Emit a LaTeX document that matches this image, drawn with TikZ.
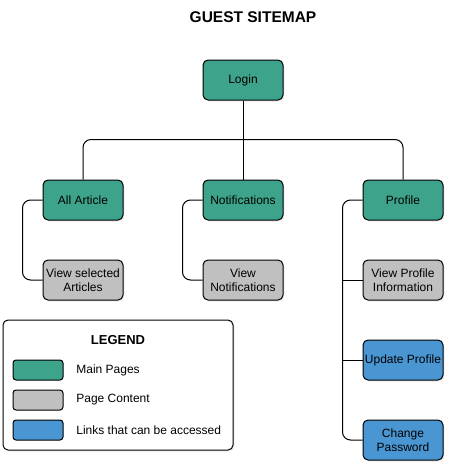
\documentclass[tikz,border=0pt]{standalone}
\usepackage{fontspec}
\setmainfont{Liberation Sans}
\usetikzlibrary{shadows,positioning}
\definecolor{mainclr}{HTML}{3DA38A}
\definecolor{contentclr}{HTML}{BFC0BF}
\definecolor{linkclr}{HTML}{4A96D2}
\begin{document}
\begin{tikzpicture}[x=1pt,y=-1pt, line width=1pt,
    box/.style={draw, rounded corners=5pt, minimum width=80pt, minimum height=40pt,
        align=center, inner sep=1pt, font=\fontsize{12}{14}\selectfont,
        drop shadow={opacity=0.15, shadow xshift=1.5pt, shadow yshift=-1.5pt}},
    mainpage/.style={box, fill=mainclr},
    content/.style={box, fill=contentclr},
    linkpage/.style={box, fill=linkclr},
    swatch/.style={draw, rounded corners=3pt, minimum width=50pt, minimum height=20pt},
    wire/.style={rounded corners=8pt}]
    \useasboundingbox (0,0) rectangle (448,464);

    \node[font=\bfseries\fontsize{15.5}{18}\selectfont] (title) at (253,17) {GUEST SITEMAP};

    % pages
    \node[mainpage] (login) at (243,80) {Login};
    \node[mainpage] (allart) at (83,200) {All Article};
    \node[mainpage] (notif) at (243,200) {Notifications};
    \node[mainpage] (profile) at (403,200) {Profile};

    \node[content] (viewart) at (83,280) {View selected\\Articles};
    \node[content] (viewnotif) at (243,280) {View\\Notifications};
    \node[content] (viewprof) at (403,280) {View Profile\\Information};
    \node[linkpage] (updprof) at (403,360) {Update Profile};
    \node[linkpage] (chpass) at (403,440) {Change\\Password};

    % links
    \draw[wire] (allart.north) -- ++(0,-40) -| (profile.north);
    \draw (login.south) -- (notif.north);
    \draw[wire] (allart.west) -- ++(-20,0) |- (viewart.west);
    \draw[wire] (notif.west) -- ++(-20,0) |- (viewnotif.west);
    \draw[wire] (profile.west) -- ++(-20,0) |- (chpass.west);
    \draw (viewprof.west) -- ++(-20,0);
    \draw (updprof.west) -- ++(-20,0);

    % legend
    \node[draw, fill=white, rounded corners=5pt, minimum width=230pt, minimum height=130pt,
        drop shadow={opacity=0.15, shadow xshift=1.5pt, shadow yshift=-1.5pt}] (legend) at (118,385) {};
    \node[font=\bfseries\fontsize{13}{16}\selectfont] (legtitle) at (118,340) {LEGEND};
    \node[swatch, fill=mainclr] (mainsw) at (38,370) {};
    \node[swatch, fill=contentclr] (contsw) at (38,400) {};
    \node[swatch, fill=linkclr] (linksw) at (38,430) {};
    \node[right=9pt of mainsw, font=\fontsize{12}{14}\selectfont] (mainlbl) {Main Pages};
    \node[right=9pt of contsw, font=\fontsize{12}{14}\selectfont] (contlbl) {Page Content};
    \node[right=9pt of linksw, font=\fontsize{12}{14}\selectfont] (linklbl) {Links that can be accessed};
\end{tikzpicture}
\end{document}
